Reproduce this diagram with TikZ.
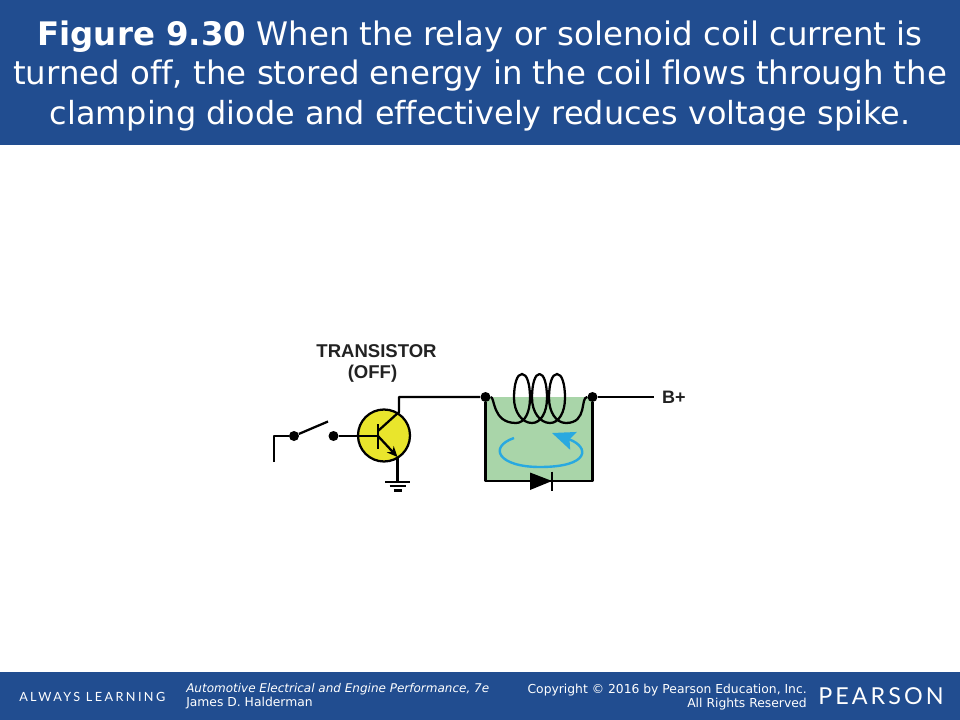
\documentclass[tikz,border=0pt]{standalone}
\usepackage{fontspec}
\setmainfont[Ligatures=NoCommon]{DejaVu Sans}
\newfontfamily\figfont{Liberation Sans}
\newfontfamily\tagfont[LetterSpace=19]{Lato}
\newfontfamily\logofont[LetterSpace=13]{Lato}
\usetikzlibrary{arrows.meta,positioning,calc}
\definecolor{bannerblue}{HTML}{214D90}
\definecolor{coilgreen}{HTML}{A9D5A9}
\definecolor{loopblue}{HTML}{29A9E0}
\definecolor{caseyellow}{HTML}{E9E52C}
\definecolor{labelgrey}{HTML}{222222}

\begin{document}
\begin{tikzpicture}[x=0.75pt,y=-0.75pt]
	\tikzstyle{wire}=[draw=black,line width=1.7pt,line join=round]
	\tikzstyle{dotnode}=[draw=none,fill=black,shape=circle,inner sep=0pt,minimum size=7.5pt]
	\tikzstyle{banner}=[draw=none,fill=bannerblue]
	\tikzstyle{figlabel}=[font=\figfont\bfseries\fontsize{13.9}{17}\selectfont,text=labelgrey,inner sep=0pt]
	\tikzstyle{foot}=[text=white,font=\fontsize{9.25}{10.5}\selectfont,inner sep=0pt]

	\useasboundingbox (0,0) rectangle (960,720);

	%banners
	\fill[banner] (0,0) rectangle (960,145);
	\fill[banner] (0,672) rectangle (960,720);

	\node[text=white,align=center,font=\fontsize{24.3}{29.5}\selectfont] (title) at (480,76)
		{{\bfseries Figure 9.30} When the relay or solenoid coil current is\\
		turned off, the stored energy in the coil flows through the\\
		{\fontsize{23.9}{29.5}\selectfont clamping diode and effectively reduces voltage spike.}};

	\node[foot,anchor=west,font=\tagfont\fontsize{9.5}{11}\selectfont] (tag) at (19,696.5) {ALWAYS LEARNING};
	\node[foot,anchor=west,font=\itshape\fontsize{9}{10.5}\selectfont] (book) at (186,689) {Automotive Electrical and Engine Performance, 7e};
	\node[foot,anchor=west] (author) at (186,703) {James D. Halderman};
	\node[foot,anchor=east] (copy) at (807,690) {Copyright © 2016 by Pearson Education, Inc.};
	\node[foot,anchor=east] (rights) at (807,704) {All Rights Reserved};
	\node[foot,anchor=west,font=\logofont\fontsize{17.5}{20}\selectfont] (logo) at (818,696) {PEARSON};

	%coil box
	\coordinate (boxtl) at (485.5,397);
	\coordinate (boxtr) at (592.5,397);
	\coordinate (boxbl) at (485.5,481);
	\coordinate (boxbr) at (592.5,481);
	\fill[coilgreen] (boxtl) rectangle (boxbr);

	%transistor
	\node[draw=black,line width=1.7pt,fill=caseyellow,shape=circle,inner sep=0pt,minimum size=39pt] (q1) at (384,435.5) {};
	\node[figlabel] (qlabel) at (376.5,351) {TRANSISTOR};
	\node[figlabel] (qstate) at (372.5,374) {(OFF)};

	\node[dotnode] (sw1) at (294,436) {};
	\node[dotnode] (sw2) at (333.5,436) {};
	\node[dotnode] (n1) at (485.5,397) {};
	\node[dotnode] (n2) at (592.5,397) {};

	\coordinate (in0) at (274,462);
	\coordinate (in1) at (274,436);
	\coordinate (swtip) at (328,421.5);
	\coordinate (bar1) at (378,424);
	\coordinate (bar2) at (378,449);
	\coordinate (base) at (378,436);
	\coordinate (ccor) at (399,397);
	\coordinate (cout) at (399,412);
	\coordinate (cin) at (378,431);
	\coordinate (eout) at (397.5,457);
	\coordinate (gnd) at (397.5,482);
	\coordinate (bplus) at (654,397);

	\draw[wire] (in0) -- (in1) -- (sw1);
	\draw[wire] (sw1) -- (swtip);
	\draw[wire] (sw2) -- (base);
	\draw[wire] (bar1) -- (bar2);
	\draw[wire] (cin) -- (cout) -- (ccor) -- (n1);
	\draw[wire,-{Stealth[length=8pt,width=7pt]}] (base) -- (eout);
	\draw[wire] (eout) -- (gnd);
	\draw[wire] (n2) -- (bplus);
	\draw[wire] (n1) -- (boxbl) -- (boxbr) -- (n2);

	%ground
	\draw[wire] ($(gnd)+(-12.5,0)$) -- ($(gnd)+(12,0)$);
	\draw[wire] ($(gnd)+(-8,4)$) -- ($(gnd)+(8,4)$);
	\draw[wire] ($(gnd)+(-4,8.5)$) -- ($(gnd)+(4,8.5)$);

	%coil
	\draw[wire] (n1) .. controls (495,397) and (492,423) .. (516,423)
		.. controls (525,423) and (530,412) .. (530,398)
		.. controls (530,384) and (527,374) .. (522,374)
		.. controls (517,374) and (514,384) .. (514,398)
		.. controls (514,412) and (522,423) .. (532,423)
		.. controls (541,423) and (547,412) .. (547,398)
		.. controls (547,384) and (544,374) .. (539.5,374)
		.. controls (535,374) and (532,384) .. (532,398)
		.. controls (532,412) and (540,423) .. (550,423)
		.. controls (559,423) and (565,412) .. (565,398)
		.. controls (565,384) and (562,374) .. (557,374)
		.. controls (552,374) and (549,384) .. (549,398)
		.. controls (549,412) and (556,423) .. (566,423)
		.. controls (588,423) and (580,397) .. (n2);

	%current loop
	\draw[line width=1.8pt,draw=loopblue,-{Stealth[length=17pt,width=14pt,inset=3pt]}] (514,438)
		.. controls (488,447) and (498,467) .. (540,467)
		.. controls (590,467) and (590,447) .. (552,433);

	%diode
	\coordinate (dtop) at (530,472.5);
	\coordinate (dbot) at (530,490);
	\coordinate (dtip) at (552,481);
	\fill[black] (dtop) -- (dbot) -- (dtip) -- cycle;
	\draw[wire] (552,471.5) -- (552,490.5);

	\node[font=\figfont\bfseries\fontsize{13.5}{15}\selectfont,text=labelgrey,right=2.5pt of bplus] (bp) {B+};
\end{tikzpicture}
\end{document}
